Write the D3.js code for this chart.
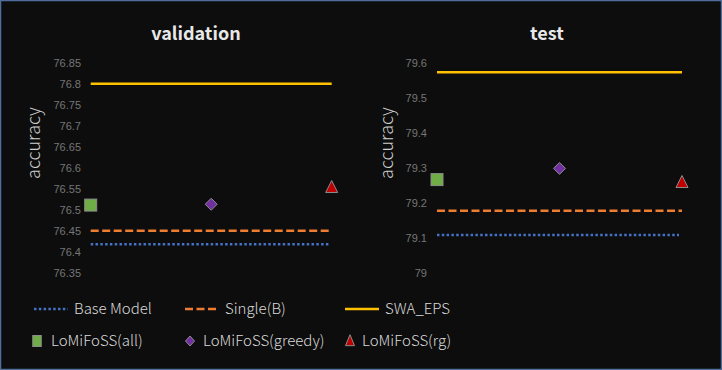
<!DOCTYPE html>
<html><head><meta charset="utf-8">
<script src="https://cdn.jsdelivr.net/npm/d3@7"></script>
<style>
html,body{margin:0;padding:0;background:#0d0d0d;}
svg{display:block;}
text{font-family:"Noto Sans CJK SC","Noto Sans",sans-serif;}
</style></head><body>
<svg id="c" width="722" height="370"></svg>
<script>
const methods = ["LoMiFoSS(all)", "LoMiFoSS(greedy)", "LoMiFoSS(rg)"];
const panels = ["validation", "test"];
// reference lines
const baseModel = [76.4175, 79.108];
const singleB   = [76.45, 79.177];
const swaEps    = [76.80, 79.573];
// points per panel: [all, greedy, rg]
const valPoints  = [76.511, 76.513, 76.553];
const testPoints = [79.266, 79.298, 79.258];
const valTicks  = [76.35, 76.4, 76.45, 76.5, 76.55, 76.6, 76.65, 76.7, 76.75, 76.8, 76.85];
const testTicks = [79, 79.1, 79.2, 79.3, 79.4, 79.5, 79.6];
const valDomain = [76.35, 76.85];
const testDomain = [79.0, 79.6];

const colors = {base:"#4472c4", single:"#ed7d31", swa:"#ffc000", all:"#70ad47", greedy:"#7030a0", rg:"#c00000"};

const svg = d3.select("#c");
svg.append("rect").attr("x",0.5).attr("y",0.5).attr("width",721).attr("height",369)
  .attr("fill","#0d0d0d").attr("stroke","#4f6e9e").attr("stroke-width",1.5);

const layouts = [
  {title:panels[0], x:[90.7,331.7], y:[272.7,62.7], dom:valDomain, ticks:valTicks, pts:valPoints,
   tickX:81, titleX:196, labelX:34, fmt:d=>String(+d.toFixed(2)), idx:0},
  {title:panels[1], x:[437,682], y:[272.7,62.7], dom:testDomain, ticks:testTicks, pts:testPoints,
   tickX:427, titleX:547, labelX:387, fmt:d=>String(+d.toFixed(1)), idx:1}
];

function marker(g, type, cx, cy, w, h){
  const hw=w/2, hh=h/2;
  if(type==="all"){
    g.append("rect").attr("x",cx-hw).attr("y",cy-hh).attr("width",w).attr("height",h)
      .attr("fill",colors.all).attr("stroke","#8c8c8c").attr("stroke-width",1);
  } else if(type==="greedy"){
    g.append("path").attr("d",`M${cx},${cy-hh}L${cx+hw},${cy}L${cx},${cy+hh}L${cx-hw},${cy}Z`)
      .attr("fill",colors.greedy).attr("stroke","#8c8c8c").attr("stroke-width",1);
  } else {
    g.append("path").attr("d",`M${cx},${cy-hh*1.15}L${cx+hw},${cy+hh*0.85}L${cx-hw},${cy+hh*0.85}Z`)
      .attr("fill",colors.rg).attr("stroke","#8c8c8c").attr("stroke-width",1);
  }
}
const keys = ["all","greedy","rg"];

layouts.forEach(L=>{
  const x = d3.scalePoint().domain(methods).range(L.x);
  const y = d3.scaleLinear().domain(L.dom).range(L.y);
  const g = svg.append("g");
  const axis = d3.axisLeft(y).tickValues(L.ticks).tickFormat(L.fmt).tickSize(0).tickPadding(0);
  const ag = g.append("g").attr("transform",`translate(${L.tickX},0)`).call(axis);
  ag.select(".domain").remove();
  ag.selectAll("text").attr("fill","#767676").style("font-size","11px")
    .style("font-family","'Liberation Sans',Arial,sans-serif").attr("x",0);
  g.append("text").attr("x",L.titleX).attr("y",40).attr("text-anchor","middle")
    .attr("fill","#e8e8e8").style("font-size","18px").style("font-weight","bold").text(L.title);
  g.append("text").attr("transform",`translate(${L.labelX},143) rotate(-90)`).attr("text-anchor","middle")
    .attr("dy","0.35em").attr("fill","#d0d0d0").style("font-size","18px").style("font-weight","300").text("accuracy");
  const x0 = x(methods[0]), x1 = x(methods[2]);
  g.append("line").attr("x1",x0).attr("x2",x1-3).attr("y1",y(baseModel[L.idx])).attr("y2",y(baseModel[L.idx]))
    .attr("stroke",colors.base).attr("stroke-width",2.5).attr("stroke-dasharray","2.5,2.3");
  g.append("line").attr("x1",x0).attr("x2",x1).attr("y1",y(singleB[L.idx])).attr("y2",y(singleB[L.idx]))
    .attr("stroke",colors.single).attr("stroke-width",2.5).attr("stroke-dasharray","8,3.5");
  g.append("line").attr("x1",x0).attr("x2",x1).attr("y1",y(swaEps[L.idx])).attr("y2",y(swaEps[L.idx]))
    .attr("stroke",colors.swa).attr("stroke-width",2.5);
  methods.forEach((m,i)=>marker(g, keys[i], x(m), y(L.pts[i]), 12, 12));
});

// legend
const lg = svg.append("g");
const lineItems = [
  {name:"Base Model", x:34, color:colors.base, dash:"2.5,2.3"},
  {name:"Single(B)", x:185, color:colors.single, dash:"8,3.5"},
  {name:"SWA_EPS", x:345, color:colors.swa, dash:null}
];
lineItems.forEach(it=>{
  const l = lg.append("line").attr("x1",it.x).attr("x2",it.x+34).attr("y1",309).attr("y2",309)
    .attr("stroke",it.color).attr("stroke-width",2.5);
  if(it.dash) l.attr("stroke-dasharray",it.dash);
  lg.append("text").attr("x",it.x+40).attr("y",309).attr("dy","0.35em").attr("fill","#d9d9d9")
    .style("font-size","15px").style("font-weight","300").text(it.name);
});
const markItems = [{key:"all",x:37,tx:51,w:8.5,h:11},{key:"greedy",x:190,tx:203,w:9,h:10},{key:"rg",x:350,tx:362,w:9,h:11}];
markItems.forEach((it,i)=>{
  marker(lg, it.key, it.x, 341, it.w, it.h);
  lg.append("text").attr("x",it.tx).attr("y",341).attr("dy","0.35em").attr("fill","#d9d9d9")
    .style("font-size","15px").style("font-weight","300").text(methods[i]);
});
</script></body></html>
